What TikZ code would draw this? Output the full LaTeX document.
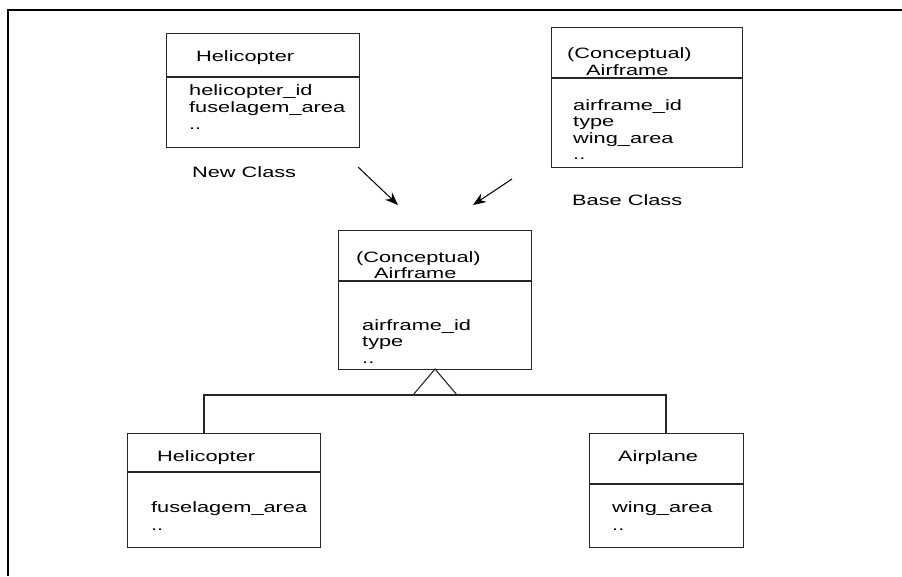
\documentclass[tikz,border=0pt]{standalone}
\usepackage{fontspec}
\newfontfamily\umlfont[FakeStretch=1.45]{Liberation Sans}
\usetikzlibrary{arrows.meta}
\begin{document}
\begin{tikzpicture}[x=1pt,y=-1pt,
  box/.style={draw=black!85, line width=1.2pt, fill=none, inner sep=0pt, anchor=north west},
  lbl/.style={inner sep=0pt, anchor=base west, font=\umlfont\fontsize{15}{16.7}\selectfont, text=black},
  sep/.style={draw=black!85, line width=1.1pt},
  arr/.style={line width=1pt, -{Stealth[length=13pt,width=10pt]}},
  link/.style={draw=black!85, line width=1.1pt}]
\useasboundingbox (0,0) rectangle (902,576);
% frame
\draw[line width=2pt] (902,10) -- (8,10) -- (8,576);

% top-left Helicopter
\node[box, minimum width=193pt, minimum height=114pt] (h1) at (166,33) {};
\draw[sep] (166,77) -- (359,77);
\node[lbl] (h1t) at (196,61) {Helicopter};
\node[lbl] (h1a) at (189,95) {helicopter\_id};
\node[lbl] (h1b) at (189,112) {fuselagem\_area};
\node[lbl] (h1c) at (189,129) {..};
\node[lbl] (nc) at (192,177) {New Class};

% top-right Airframe
\node[box, minimum width=191pt, minimum height=140pt] (a1) at (551,27) {};
\draw[sep] (551,78) -- (742,78);
\node[lbl] (a1t) at (567,58) {(Conceptual)};
\node[lbl] (a1u) at (586,75) {Airframe};
\node[lbl] (a1a) at (573,110) {airframe\_id};
\node[lbl] (a1b) at (573,126) {type};
\node[lbl] (a1c) at (573,143) {wing\_area};
\node[lbl] (a1d) at (573,159) {..};
\node[lbl] (bc) at (572,205) {Base Class};

% middle Airframe
\node[box, minimum width=193pt, minimum height=139pt] (m) at (338,230) {};
\draw[sep] (338,281) -- (531,281);
\node[lbl] (mt) at (356,262) {(Conceptual)};
\node[lbl] (mu) at (374,278) {Airframe};
\node[lbl] (ma) at (362,330) {airframe\_id};
\node[lbl] (mb) at (362,346) {type};
\node[lbl] (mc) at (362,363) {..};

% bottom-left Helicopter
\node[box, minimum width=193pt, minimum height=114pt] (hb) at (127,433) {};
\draw[sep] (127,472) -- (320,472);
\node[lbl] (hbt) at (157,461) {Helicopter};
\node[lbl] (hba) at (151,512) {fuselagem\_area};
\node[lbl] (hbb) at (151,530) {..};

% bottom-right Airplane
\node[box, minimum width=154pt, minimum height=114pt] (ap) at (589,433) {};
\draw[sep] (589,484) -- (743,484);
\node[lbl] (apt) at (618,461) {Airplane};
\node[lbl] (apa) at (612,512) {wing\_area};
\node[lbl] (apb) at (612,530) {..};

% arrows
\coordinate (s1) at (358,167);
\coordinate (e1) at (398,205);
\coordinate (s2) at (512,179);
\coordinate (e2) at (473,205);
\draw[arr] (s1) -- (e1);
\draw[arr] (s2) -- (e2);

% inheritance
\coordinate (apex) at (435,369);
\coordinate (bl) at (413,395);
\coordinate (br) at (457,395);
\coordinate (hl) at (204,395);
\coordinate (hr) at (666,395);
\draw[link] (bl) -- (apex.center) -- (br);
\draw[link] (hb.north west -| hl) -- (hl) -- (hr) -- (ap.north west -| hr);
\end{tikzpicture}
\end{document}
